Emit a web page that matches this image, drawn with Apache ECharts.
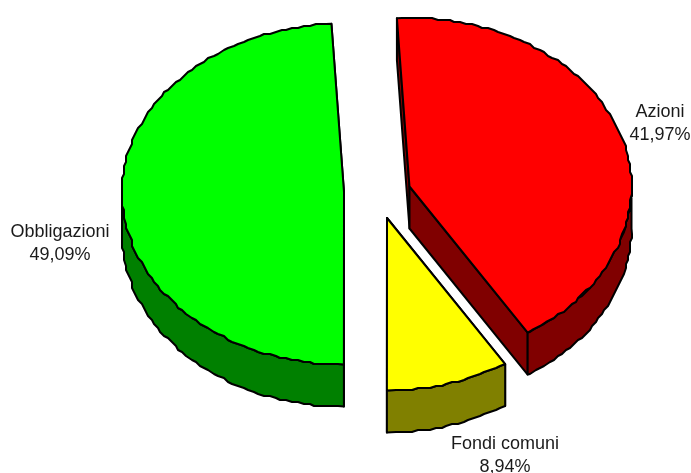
<!DOCTYPE html>
<html>
<head>
<meta charset="utf-8">
<style>
html, body { margin: 0; padding: 0; background: #fff; }
#main { width: 691px; height: 473px; }
</style>
<script src="https://cdn.jsdelivr.net/npm/echarts@6/dist/echarts.min.js"></script>
</head>
<body>
<div id="main"></div>
<script>
// dati
const categories = ['Azioni', 'Fondi comuni', 'Obbligazioni'];
const values = [41.97, 8.94, 49.09];

// colori faccia / parete
const topColors = ['#ff0000', '#ffff00', '#00ff00'];
const wallColors = ['#800000', '#808000', '#008000'];

// centro di ogni fetta (esplosa) e posizione etichette
const centers = [[409.5, 186.5], [387, 218], [344, 192]];
const labelPos = [[660, 124], [505, 456], [60, 244]];

const rx = 222;
const ryBack = 168.5;   // metà posteriore leggermente più schiacciata
const ryFront = 172.5;
const depth = 42;
const startAngle = -3.25;  // gradi, senso orario dalle ore 12

function pt(c, deg, dy) {
    const r = deg * Math.PI / 180;
    const cos = Math.cos(r);
    return [c[0] + rx * Math.sin(r), c[1] - (cos > 0 ? ryBack : ryFront) * cos + (dy || 0)];
}

// il contorno originale è a scalini, arrotondo i punti interni
function arc(c, a0, a1, dy) {
    const pts = [pt(c, a0, dy)];
    const step = 1.5;
    for (let a = a0 + step; a < a1 - step / 2; a += step) {
        const p = pt(c, a, dy);
        pts.push([Math.round(p[0] / 2) * 2, Math.round(p[1] / 2) * 2]);
    }
    pts.push(pt(c, a1, dy));
    return pts;
}

function poly(points, fill) {
    return {
        type: 'polygon',
        shape: { points: points },
        style: { fill: fill, stroke: '#000', lineWidth: 2, lineJoin: 'round' }
    };
}

function renderSlice(params, api) {
    const i = params.dataIndex;
    const a0 = api.value(1);
    const a1 = a0 + api.value(0) * 3.6;
    const c = centers[i];
    const apexLow = [c[0], c[1] + depth];
    const children = [];

    // pareti radiali
    [a0, a1].forEach(function (a) {
        children.push(poly([c, pt(c, a), pt(c, a, depth), apexLow], wallColors[i]));
    });
    // parete curva, solo la parte anteriore
    const w0 = Math.max(a0, 90);
    const w1 = Math.min(a1, 270);
    if (w1 > w0) {
        children.push(poly(arc(c, w0, w1, 0).concat(arc(c, w0, w1, depth).reverse()), wallColors[i]));
    }
    // faccia superiore
    children.push(poly([c].concat(arc(c, a0, a1, 0)), topColors[i]));
    // etichetta
    children.push({
        type: 'text',
        style: {
            x: labelPos[i][0],
            y: labelPos[i][1],
            text: categories[i] + '\n' + api.value(0).toFixed(2).replace('.', ',') + '%',
            fill: '#1a1a1a',
            font: '18px "Liberation Sans", Arial, sans-serif',
            lineHeight: 23,
            align: 'center',
            verticalAlign: 'middle'
        }
    });
    return { type: 'group', children: children };
}

let cum = startAngle;
const seriesData = values.map(function (v, i) {
    const d = { name: categories[i], value: [v, cum] };
    cum += v * 3.6;
    return d;
});

const chart = echarts.init(document.getElementById('main'), null, { renderer: 'canvas' });
chart.setOption({
    backgroundColor: '#ffffff',
    animation: false,
    series: [{
        type: 'custom',
        coordinateSystem: 'none',
        renderItem: renderSlice,
        data: seriesData
    }]
});
</script>
</body>
</html>
